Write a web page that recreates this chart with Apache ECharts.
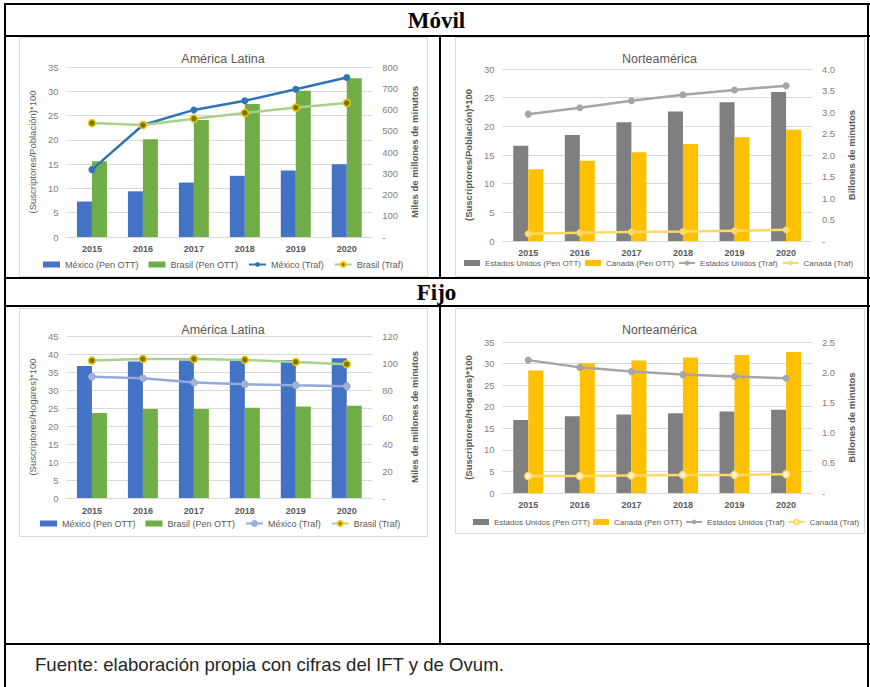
<!DOCTYPE html>
<html>
<head>
<meta charset="utf-8">
<script src="https://cdn.jsdelivr.net/npm/echarts@6/dist/echarts.min.js"></script>
<style>
html,body{margin:0;padding:0;background:#fff;}
#page{position:relative;width:870px;height:687px;overflow:hidden;background:#fff;}
.ln{position:absolute;background:#000;}
.hdr{position:absolute;left:6px;width:861px;text-align:center;font-family:"Liberation Serif","Times New Roman",serif;font-weight:bold;font-size:23px;color:#000;}
.box{position:absolute;border:1px solid #D9D9D9;box-sizing:border-box;pointer-events:none;}
.chart{position:absolute;}
#foot{position:absolute;left:35px;top:654px;font-family:"Liberation Sans",Arial,sans-serif;font-size:18.6px;color:#262626;white-space:nowrap;}
</style>
</head>
<body>
<div id="page">
  <div class="ln" style="left:4px;top:3px;width:866px;height:2px"></div>
  <div class="ln" style="left:4px;top:35px;width:866px;height:2px"></div>
  <div class="ln" style="left:4px;top:277px;width:866px;height:2px"></div>
  <div class="ln" style="left:4px;top:305px;width:866px;height:2px"></div>
  <div class="ln" style="left:4px;top:643px;width:866px;height:2px"></div>
  <div class="ln" style="left:4px;top:3px;width:2px;height:684px"></div>
  <div class="ln" style="left:867px;top:3px;width:2px;height:684px"></div>
  <div class="ln" style="left:439px;top:36px;width:2px;height:242px"></div>
  <div class="ln" style="left:439px;top:306px;width:2px;height:338px"></div>
  <div class="hdr" style="top:5px;line-height:31px">Móvil</div>
  <div class="hdr" style="top:279px;line-height:27px">Fijo</div>

  <div id="c1" class="chart" style="left:19px;top:37px;width:408px;height:240px"></div>
  <div class="box" style="left:19px;top:37px;width:409px;height:240px"></div>
  <div id="c2" class="chart" style="left:455px;top:37px;width:409px;height:240px"></div>
  <div class="box" style="left:455px;top:37px;width:410px;height:240px"></div>
  <div id="c3" class="chart" style="left:19px;top:308px;width:408px;height:228px"></div>
  <div class="box" style="left:19px;top:308px;width:409px;height:229px"></div>
  <div id="c4" class="chart" style="left:455px;top:308px;width:409px;height:225px"></div>
  <div class="box" style="left:455px;top:308px;width:410px;height:226px"></div>

  <div id="foot">Fuente: elaboración propia con cifras del IFT y de Ovum.</div>
</div>
<script>
// ---------- data ----------
const years = ['2015', '2016', '2017', '2018', '2019', '2020'];

// Móvil - América Latina
const movLatMexPen = [7.3, 9.4, 11.2, 12.6, 13.7, 15.0];
const movLatBraPen = [15.6, 20.1, 24.1, 27.4, 30.1, 32.7];
const movLatMexTraf = [317, 527, 598, 641, 695, 751];
const movLatBraTraf = [536, 527, 557, 584, 609, 631];

// Móvil - Norteamérica
const movNorUsPen = [16.6, 18.5, 20.7, 22.6, 24.2, 26.0];
const movNorCaPen = [12.5, 14.0, 15.5, 16.9, 18.1, 19.4];
const movNorUsTraf = [2.95, 3.10, 3.26, 3.40, 3.51, 3.61];
const movNorCaTraf = [0.17, 0.19, 0.21, 0.22, 0.24, 0.26];

// Fijo - América Latina
const fijLatMexPen = [36.7, 37.9, 38.2, 38.4, 38.3, 38.8];
const fijLatBraPen = [23.6, 24.7, 24.7, 25.1, 25.4, 25.6];
const fijLatMexTraf = [89.9, 88.7, 85.5, 84.3, 83.5, 82.8];
const fijLatBraTraf = [101.8, 103.0, 103.0, 102.3, 100.8, 99.1];

// Fijo - Norteamérica
const fijNorUsPen = [16.9, 17.8, 18.2, 18.5, 18.9, 19.3];
const fijNorCaPen = [28.4, 30.1, 30.7, 31.4, 32.0, 32.7];
const fijNorUsTraf = [2.20, 2.08, 2.01, 1.96, 1.93, 1.90];
const fijNorCaTraf = [0.28, 0.28, 0.29, 0.30, 0.30, 0.31];

// axis ranges [max, interval]
const movLatLeft = [35, 5], movLatRight = [800, 100];
const movNorLeft = [30, 5], movNorRight = [4, 0.5];
const fijLatLeft = [45, 5], fijLatRight = [120, 20];
const fijNorLeft = [35, 5], fijNorRight = [2.5, 0.5];

const latNames = ['México (Pen OTT)', 'Brasil (Pen OTT)', 'México (Traf)', 'Brasil (Traf)'];
const norNames = ['Estados Unidos (Pen OTT)', 'Canadá (Pen OTT)', 'Estados Unidos (Traf)', 'Canadá (Traf)'];

// ---------- builder ----------
const F = '"Liberation Sans",Arial,sans-serif';
const GRAY = '#595959';

function build(c) {
  const rightFmt = v => (v === 0 ? '-' : (c.rDec ? v.toFixed(1) : String(v)));
  return {
    animation: false,
    title: {
      text: c.title, left: 'center', top: c.titleTop,
      textStyle: { fontFamily: F, fontSize: 12.5, fontWeight: 'normal', color: GRAY }
    },
    grid: { left: c.grid[0], top: c.grid[1], width: c.grid[2], height: c.grid[3] },
    legend: {
      left: c.legendLeft, top: c.legendTop, itemWidth: c.legItemW, itemHeight: 6, itemGap: c.legGap,
      padding: 0,
      textStyle: { fontFamily: F, fontSize: c.legFont, color: GRAY },
      data: [
        { name: c.names[0], icon: 'rect' },
        { name: c.names[1], icon: 'rect' },
        { name: c.names[2] },
        { name: c.names[3] }
      ]
    },
    xAxis: {
      type: 'category', data: years,
      axisLine: { lineStyle: { color: '#D9D9D9' } },
      axisTick: { show: false },
      axisLabel: { fontFamily: F, fontSize: 9, fontWeight: 'bold', color: GRAY, margin: c.xMargin }
    },
    yAxis: [
      {
        type: 'value', min: 0, max: c.left[0], interval: c.left[1],
        name: c.lName, nameLocation: 'middle', nameGap: c.lGap, nameRotate: 90,
        nameTextStyle: { fontFamily: F, fontSize: 9.5, color: GRAY, fontWeight: c.lBold ? 'bold' : 'normal' },
        axisLine: { show: false }, axisTick: { show: false },
        axisLabel: { fontFamily: F, fontSize: 9.5, color: '#7F7F7F', margin: 8 },
        splitLine: { lineStyle: { color: '#D9D9D9' } }
      },
      {
        type: 'value', position: 'right', min: 0, max: c.right[0], interval: c.right[1],
        name: c.rName, nameLocation: 'middle', nameGap: c.rGap, nameRotate: 90,
        nameTextStyle: { fontFamily: F, fontSize: 9.5, color: GRAY, fontWeight: 'bold' },
        axisLine: { show: false }, axisTick: { show: false },
        axisLabel: { fontFamily: F, fontSize: 9.5, color: '#7F7F7F', margin: 10, formatter: rightFmt },
        splitLine: { show: false }
      }
    ],
    series: [
      { name: c.names[0], type: 'bar', data: c.b1, barWidth: 15, barGap: '0%', itemStyle: { color: c.c1 } },
      { name: c.names[1], type: 'bar', data: c.b2, barWidth: 15, barGap: '0%', itemStyle: { color: c.c2 } },
      {
        name: c.names[2], type: 'line', yAxisIndex: 1, data: c.l1,
        symbol: 'circle', symbolSize: 7,
        lineStyle: { color: c.c3, width: 2.5 },
        itemStyle: c.s3
      },
      {
        name: c.names[3], type: 'line', yAxisIndex: 1, data: c.l2,
        symbol: 'circle', symbolSize: 7,
        lineStyle: { color: c.c4, width: 2.5 },
        itemStyle: c.s4
      }
    ]
  };
}

const braMarker = { color: '#6F7A12', borderColor: '#FFC000', borderWidth: 1.5 };

const charts = [
  {
    id: 'c1', title: 'América Latina', titleTop: 10,
    grid: [41, 30, 320, 170], legendLeft: 24, legendTop: 223, xMargin: 7,
    legFont: 9, legItemW: 17, legGap: 10,
    left: movLatLeft, right: movLatRight, rDec: false,
    lName: '(Suscriptores/Población)*100', lGap: 26, lBold: false,
    rName: 'Miles de millones de minutos', rGap: 33,
    names: latNames,
    b1: movLatMexPen, b2: movLatBraPen, l1: movLatMexTraf, l2: movLatBraTraf,
    c1: '#4472C4', c2: '#70AD47', c3: '#2E75B6', c4: '#A9D18E',
    s3: { color: '#2E75B6' }, s4: braMarker
  },
  {
    id: 'c2', title: 'Norteamérica', titleTop: 10,
    grid: [40, 32, 322, 172], legendLeft: 9, legendTop: 222, xMargin: 7,
    legFont: 8, legItemW: 16, legGap: 4,
    left: movNorLeft, right: movNorRight, rDec: true,
    lName: '(Suscriptores/Población)*100', lGap: 26, lBold: true,
    rName: 'Billones de minutos', rGap: 31,
    names: norNames,
    b1: movNorUsPen, b2: movNorCaPen, l1: movNorUsTraf, l2: movNorCaTraf,
    c1: '#7F7F7F', c2: '#FFC000', c3: '#A5A5A5', c4: '#FFD966',
    s3: { color: '#A5A5A5' }, s4: { color: '#FFD966' }
  },
  {
    id: 'c3', title: 'América Latina', titleTop: 10,
    grid: [47, 28, 311, 162], legendLeft: 21, legendTop: 211, xMargin: 8,
    legFont: 9, legItemW: 17, legGap: 10,
    left: fijLatLeft, right: fijLatRight, rDec: false,
    lName: '(Suscriptores/Hogares)*100', lGap: 25, lBold: false,
    rName: 'Miles de millones de minutos', rGap: 36,
    names: latNames,
    b1: fijLatMexPen, b2: fijLatBraPen, l1: fijLatMexTraf, l2: fijLatBraTraf,
    c1: '#4472C4', c2: '#70AD47', c3: '#8FAADC', c4: '#A9D18E',
    s3: { color: '#A5B4CF', borderColor: '#8FAADC', borderWidth: 1 }, s4: braMarker
  },
  {
    id: 'c4', title: 'Norteamérica', titleTop: 10,
    grid: [43, 34, 319, 151], legendLeft: 18, legendTop: 210, xMargin: 7,
    legFont: 8, legItemW: 16, legGap: 3,
    left: fijNorLeft, right: fijNorRight, rDec: true,
    lName: '(Suscriptores/Hogares)*100', lGap: 26, lBold: true,
    rName: 'Billones de minutos', rGap: 30,
    names: norNames,
    b1: fijNorUsPen, b2: fijNorCaPen, l1: fijNorUsTraf, l2: fijNorCaTraf,
    c1: '#7F7F7F', c2: '#FFC000', c3: '#A5A5A5', c4: '#FFD966',
    s3: { color: '#A5A5A5' }, s4: { color: '#FFF2CC', borderColor: '#FFD966', borderWidth: 1.5 }
  }
];

charts.forEach(c => {
  const chart = echarts.init(document.getElementById(c.id), null, { renderer: 'svg' });
  chart.setOption(build(c));
});
</script>
</body>
</html>
